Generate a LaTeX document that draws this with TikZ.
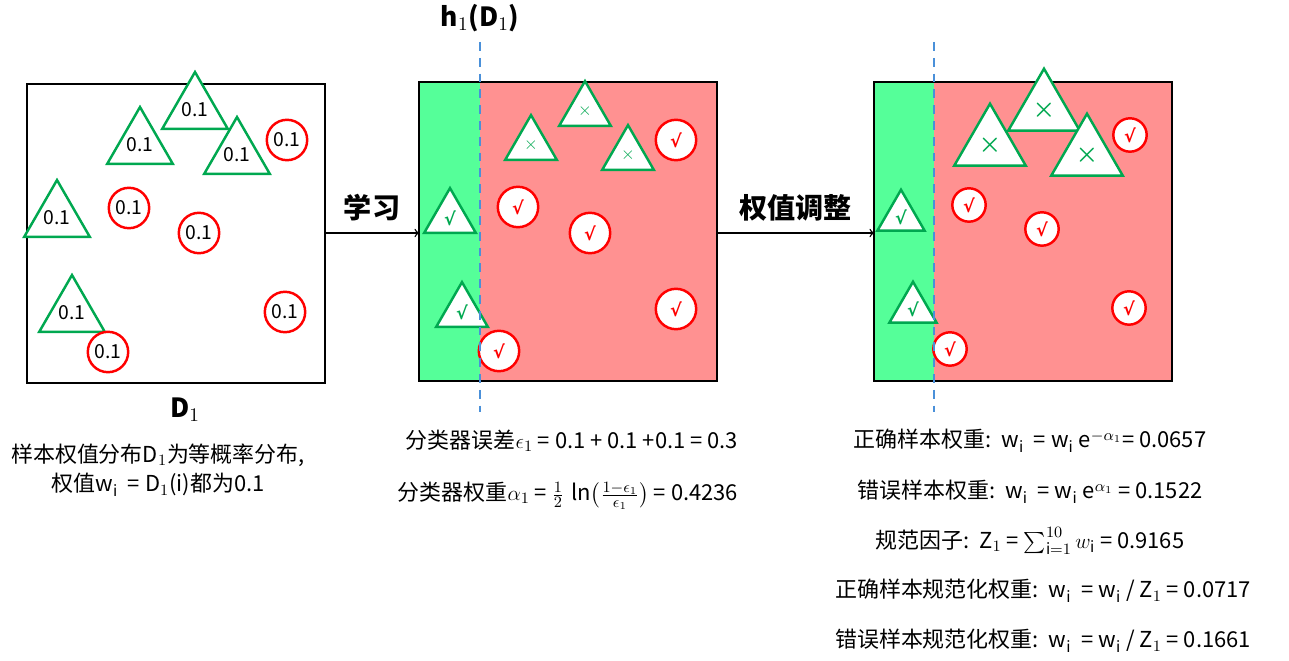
\documentclass[tikz,border=0pt]{standalone}
\usepackage{fontspec}
\usepackage{amsmath}
\setmainfont{Noto Sans CJK SC}
\newfontfamily\symfont{DejaVu Sans}
\usetikzlibrary{shapes.geometric}
\definecolor{okgreen}{HTML}{00A850}
\definecolor{stripgreen}{HTML}{55FF99}
\definecolor{badred}{HTML}{FF9191}
\definecolor{linblue}{HTML}{4A90D9}
\newcommand{\ok}{{\symfont\bfseries √}}
\tikzset{
  tri/.style={regular polygon, regular polygon sides=3, draw=okgreen, line width=1.4pt, fill=white, minimum size=#1, inner sep=0pt},
  tri/.default=34pt,
  circ/.style={circle, draw=red, line width=1.4pt, fill=white, minimum size=23pt, inner sep=0pt},
  wlabel/.style={font=\fontsize{11}{12}\selectfont},
  txt/.style={font=\fontsize{12.5}{17}\selectfont, align=center},
  blueline/.style={linblue, line width=1.4pt, dash pattern=on 5pt off 4pt},
}
\begin{document}
\begin{tikzpicture}[x=0.02cm, y=-0.02cm]
  \useasboundingbox (0,0) rectangle (1289,661);
  % sample set
  \draw[line width=1.4pt] (27,84) rectangle (325,383);
  \node[tri, wlabel] (t1) at (195,110) {0.1};
  \node[tri, wlabel] (t2) at (140,145) {0.1};
  \node[tri, wlabel] (t3) at (237,155) {0.1};
  \node[tri, wlabel] (t4) at (57,218) {0.1};
  \node[tri, wlabel] (t5) at (72,313) {0.1};
  \node[circ, wlabel] (c1) at (287,140) {0.1};
  \node[circ, wlabel] (c2) at (129,208) {0.1};
  \node[circ, wlabel] (c3) at (199,233) {0.1};
  \node[circ, wlabel] (c4) at (285,312) {0.1};
  \node[circ, wlabel] (c5) at (108,352) {0.1};
  \node[font=\bfseries\fontsize{15}{17}\selectfont] (dlab) at (185,410) {D$_1$};
  \node[txt] (dtxt) at (158,470) {样本权值分布D$_1$为等概率分布,\\权值w$_\mathrm{i}$\ \ = D$_1$(i)都为0.1};
  % classifier 1
  \fill[badred] (419,82) rectangle (717,381);
  \fill[stripgreen] (419,82) rectangle (480,381);
  \draw[line width=1.4pt] (419,82) rectangle (717,381);
  \node[tri, text=okgreen] (u1) at (531,145) {$\times$};
  \node[tri, text=okgreen] (u2) at (585,111) {$\times$};
  \node[tri, text=okgreen] (u3) at (628,155) {$\times$};
  \node[tri, text=okgreen] (u4) at (450,218) {\ok};
  \node[tri, text=okgreen] (u5) at (462,312) {\ok};
  \node[circ, text=red] (v1) at (676,140) {\ok};
  \node[circ, text=red] (v2) at (518,207) {\ok};
  \node[circ, text=red] (v3) at (590,233) {\ok};
  \node[circ, text=red] (v4) at (676,309) {\ok};
  \node[circ, text=red] (v5) at (499,351) {\ok};
  \draw[blueline] (480,42) -- (480,412);
  \node[font=\bfseries\fontsize{15}{17}\selectfont] (hlab) at (480,18) {h$_1$(D$_1$)};
  \node[txt] (err) at (572,441) {分类器误差$\epsilon_1$ = 0.1 + 0.1 +0.1 = 0.3};
  \node[txt] (alpha) at (568,496) {分类器权重$\alpha_1$ = $\frac{1}{2}\,\ln\bigl(\frac{1-\epsilon_1}{\epsilon_1}\bigr)$ = 0.4236};
  % reweighted
  \fill[badred] (874,82) rectangle (1172,381);
  \fill[stripgreen] (874,82) rectangle (934,381);
  \draw[line width=1.4pt] (874,82) rectangle (1172,381);
  \node[tri=47pt, text=okgreen, font=\bfseries\Large] (w1) at (990,145) {$\boldsymbol\times$};
  \node[tri=47pt, text=okgreen, font=\bfseries\Large] (w2) at (1044,110) {$\boldsymbol\times$};
  \node[tri=47pt, text=okgreen, font=\bfseries\Large] (w3) at (1087,155) {$\boldsymbol\times$};
  \node[tri=31pt, text=okgreen] (w4) at (901,217) {\ok};
  \node[tri=31pt, text=okgreen] (w5) at (913,309) {\ok};
  \node[circ, minimum size=19pt, text=red] (x1) at (1130,135) {\ok};
  \node[circ, minimum size=19pt, text=red] (x2) at (969,205) {\ok};
  \node[circ, minimum size=19pt, text=red] (x3) at (1042,229) {\ok};
  \node[circ, minimum size=19pt, text=red] (x4) at (1129,308) {\ok};
  \node[circ, minimum size=19pt, text=red] (x5) at (950,349) {\ok};
  \draw[blueline] (934,42) -- (934,412);
  \node[txt] (r1) at (1030,441) {正确样本权重:\ \ w$_\mathrm{i}$\ \ = w$_\mathrm{i}$ e$^{-\alpha_1}$= 0.0657};
  \node[txt] (r2) at (1030,492) {错误样本权重:\ \ w$_\mathrm{i}$\ \ = w$_\mathrm{i}$ e$^{\alpha_1}$ = 0.1522};
  \node[txt] (r3) at (1030,541) {规范因子:\ \ Z$_1$\ = $\sum_{\mathrm{i}=1}^{10}w_\mathrm{i}$ = 0.9165};
  \node[txt] (r4) at (1043,591) {正确样本规范化权重:\ \ w$_\mathrm{i}$\ \ = w$_\mathrm{i}$ / Z$_1$ = 0.0717};
  \node[txt] (r5) at (1043,641) {错误样本规范化权重:\ \ w$_\mathrm{i}$\ \ = w$_\mathrm{i}$ / Z$_1$ = 0.1661};
  % arrows
  \coordinate (a1s) at (325,233);
  \coordinate (a1e) at (419,233);
  \coordinate (a2s) at (717,233);
  \coordinate (a2e) at (874,233);
  \draw[->, line width=0.8pt] (a1s) -- (a1e) node[midway, above=3pt, font=\bfseries\fontsize{16}{18}\selectfont] (learn) {学习};
  \draw[->, line width=0.8pt] (a2s) -- (a2e) node[midway, above=3pt, font=\bfseries\fontsize{16}{18}\selectfont] (adjust) {权值调整};
\end{tikzpicture}
\end{document}
